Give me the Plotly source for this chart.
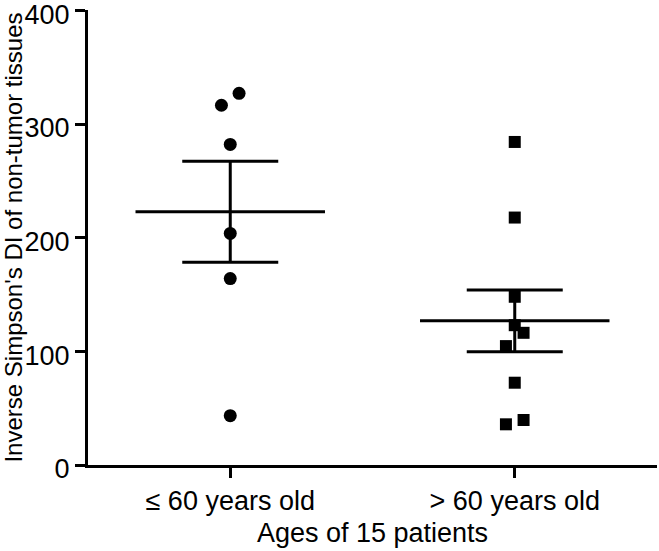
import numpy as np
import plotly.graph_objects as go

categories = ["≤ 60 years old", "> 60 years old"]
group1_values = [327, 316.5, 282, 203.7, 164, 43.4]
group1_jitter = [0.031, -0.031, 0, 0, 0, 0]
group2_values = [284.2, 217.7, 148, 123, 116.3, 104.6, 72.4, 39.6, 35.8]
group2_jitter = [0, 0, 0, 0, 0.031, -0.031, 0, 0.031, -0.031]
y_ticks = [0, 100, 200, 300, 400]

groups = [(group1_values, group1_jitter, "circle", 13),
          (group2_values, group2_jitter, "square", 12)]

fig = go.Figure()
font = "Liberation Sans, Arial, sans-serif"

for i, (vals, jit, sym, size) in enumerate(groups):
    v = np.array(vals)
    mean = v.mean()
    sem = v.std(ddof=1) / np.sqrt(len(v))
    # mean line
    fig.add_trace(go.Scatter(x=[i - 0.333, i + 0.333], y=[mean, mean], mode="lines",
                             line=dict(color="black", width=3), showlegend=False, hoverinfo="skip"))
    # SEM error bar
    fig.add_trace(go.Scatter(x=[i], y=[mean], mode="markers", marker=dict(size=0.1, color="rgba(0,0,0,0)"),
                             error_y=dict(type="data", array=[sem], visible=True, color="black",
                                          thickness=3, width=48),
                             showlegend=False, hoverinfo="skip"))

for i, (vals, jit, sym, size) in enumerate(groups):
    fig.add_trace(go.Scatter(x=[i + j for j in jit], y=vals, mode="markers",
                             marker=dict(symbol=sym, size=size, color="black", line=dict(width=0)),
                             showlegend=False, cliponaxis=False))

fig.update_layout(
    width=659, height=551,
    margin=dict(l=88, r=2, t=10, b=86),
    plot_bgcolor="white", paper_bgcolor="white",
    font=dict(family=font, color="black"),
    xaxis=dict(range=[-0.5, 1.5], tickvals=[0, 1], ticktext=categories, automargin=False,
               showline=True, linecolor="black", linewidth=3, showgrid=False, zeroline=False,
               ticks="outside", ticklen=10, tickwidth=3, tickcolor="black",
               tickfont=dict(size=27, family=font),
               title=dict(text="Ages of 15 patients", font=dict(size=27, family=font), standoff=8)),
    yaxis=dict(range=[0, 400.3], tickvals=y_ticks, automargin=False, ticklabeloverflow="allow",
               ticklabelshift=4,
               showline=True, linecolor="black", linewidth=3, showgrid=False, zeroline=False,
               ticks="outside", ticklen=10, tickwidth=3, tickcolor="black",
               tickfont=dict(size=27, family=font),
               title=dict(text="Inverse Simpson's DI of non-tumor tissues", font=dict(size=24, family=font), standoff=11)),
)

fig.write_html("out.html", config={"displayModeBar": False},
               post_script="document.body.style.margin='0';")
